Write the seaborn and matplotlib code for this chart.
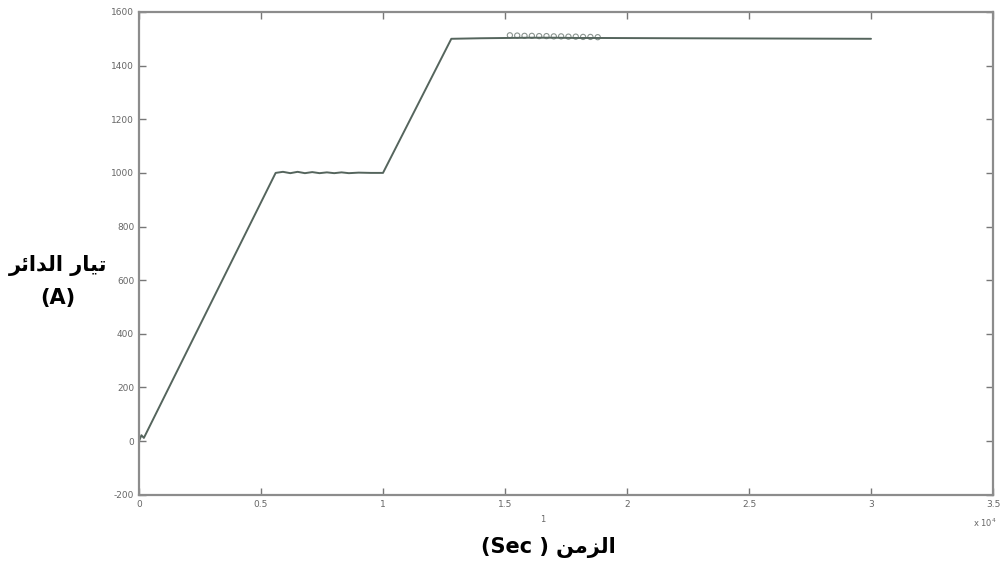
import matplotlib
matplotlib.use("Agg")
import matplotlib.pyplot as plt
import seaborn as sns
import pandas as pd

# Data (time in units of 1e4 s, current in A)
time_x1e4 = [0.0, 0.01, 0.02, 0.56, 0.59, 0.62, 0.65, 0.68, 0.71, 0.74, 0.77,
             0.80, 0.83, 0.86, 0.90, 0.95, 1.00, 1.28, 1.40, 1.50, 1.60,
             1.70, 1.80, 1.90, 2.20, 2.60, 3.00]
current = [0, 22, 12, 1000, 1004, 999, 1004, 999, 1003, 999, 1002,
           999, 1002, 999, 1001, 1000, 1000, 1500, 1502, 1503, 1504,
           1504, 1503, 1503, 1502, 1501, 1500]
osc_time = [1.52, 1.55, 1.58, 1.61, 1.64, 1.67, 1.70, 1.73, 1.76, 1.79, 1.82, 1.85, 1.88]
osc_current = [1513, 1512, 1511, 1511, 1510, 1510, 1509, 1509, 1508, 1508, 1507, 1507, 1506]

xticks = [0, 0.5, 1, 1.5, 2, 2.5, 3, 3.5]
xtick_labels = ["0", "0.5", "1", "1.5", "2", "2.5", "3", "3.5"]
yticks = [-200, 0, 200, 400, 600, 800, 1000, 1200, 1400, 1600]

# Arabic labels in presentation forms, visual (left-to-right) order
ylabel_ar = "\uFEAE\uFE8B\uFE8D\uFEAA\uFEDF\uFE8D \uFEAD\uFE8E\uFEF4\uFE97"  # تيار الدائر
xlabel_ar = "(Sec ) \uFEE6\uFEE3\uFEB0\uFEDF\uFE8D"  # الزمن ( Sec)

sns.set_style("white")
plt.rcParams['font.family'] = ['DejaVu Sans']
plt.rcParams['axes.unicode_minus'] = False

fig = plt.figure(figsize=(10, 5.7), dpi=100)
ax = fig.add_axes([0.139, 0.132, 0.854, 0.847])

df = pd.DataFrame({"t": time_x1e4, "i": current})
sns.lineplot(data=df, x="t", y="i", ax=ax, color="#55655d", linewidth=1.4)
dfo = pd.DataFrame({"t": osc_time, "i": osc_current})
sns.scatterplot(data=dfo, x="t", y="i", ax=ax, marker="o", s=14,
                facecolor="none", edgecolor="#8a948f", linewidth=0.8)

ax.set_xlim(0, 3.5)
ax.set_ylim(-200, 1600)
ax.set_xticks(xticks)
ax.set_xticklabels(xtick_labels)
ax.set_yticks(yticks)
ax.set_xlabel("")
ax.set_ylabel("")
ax.tick_params(direction="in", length=5, width=1, colors="#777777",
               labelsize=6.5, labelcolor="#666666", top=True, right=True,
               bottom=True, left=True)
for s in ax.spines.values():
    s.set_color("#8c8c8c")
    s.set_linewidth(1.6)
    s.set_visible(True)

fig.text(0.058, 0.535, ylabel_ar, ha="center", va="center", fontsize=15,
         fontweight="bold", color="black")
fig.text(0.058, 0.478, "(A)", ha="center", va="center", fontsize=15,
         fontweight="bold", color="black")
fig.text(0.548, 0.04, xlabel_ar, ha="center", va="center", fontsize=15,
         fontweight="bold", color="black")
fig.text(0.543, 0.088, "1", ha="center", va="center", fontsize=6, color="#666666")
fig.text(0.985, 0.083, "x 10$^4$", ha="center", va="center", fontsize=6, color="#666666")

fig.savefig("out.png", dpi=100)
